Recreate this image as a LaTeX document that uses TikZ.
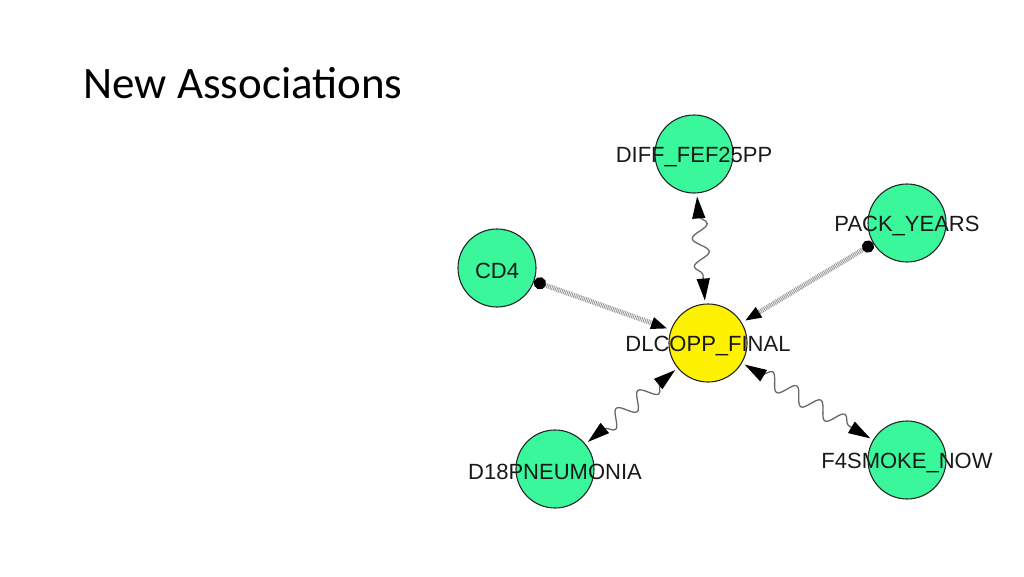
\documentclass[tikz,border=0pt]{standalone}
\usepackage{fontspec}
\setmainfont{Carlito}
\newfontfamily\labelfont{Liberation Sans}
\usetikzlibrary{arrows.meta,decorations.pathmorphing}
\definecolor{nodegreen}{RGB}{58,247,156}
\definecolor{wavegray}{RGB}{105,105,105}
\begin{document}
\begin{tikzpicture}[x=1pt, y=-1pt,
	var/.style={circle, draw=black!85, line width=1.1pt, fill=nodegreen, minimum size=78pt, inner sep=0pt},
	target/.style={var, fill=yellow},
	lbl/.style={font=\labelfont\fontsize{22}{22}\selectfont, text=black!90, yshift=-3pt},
	hatched/.style={draw=black!40, line width=5pt, dash pattern=on 0.9pt off 0.9pt, shorten >=3pt,
		{Circle[length=12pt,color=black]}-{Triangle[length=17pt,width=11pt,color=black]}},
	wavy/.style={draw=wavegray, line width=1.3pt, shorten >=3pt, shorten <=3pt, decorate,
		decoration={snake, segment length=28pt, amplitude=8pt, pre length=22pt, post length=22pt},
		{Triangle[length=22pt,width=13pt,color=black]}-{Triangle[length=22pt,width=13pt,color=black]}}]
	\useasboundingbox (0,0) rectangle (1024,576);
	\node[anchor=base west, font=\fontsize{45}{45}\selectfont] (title) at (80,98) {New Associations};
	% variables
	\node[target, label={[lbl]center:DLCOPP\_FINAL}] (dlcopp) at (708,343) {};
	\node[var, label={[lbl]center:DIFF\_FEF25PP}]    (diff)   at (694,154) {};
	\node[var, label={[lbl]center:PACK\_YEARS}]      (pack)   at (907,223) {};
	\node[var, label={[lbl]center:CD4}]              (cd4)    at (497,268) {};
	\node[var, label={[lbl]center:D18PNEUMONIA}]     (pneu)   at (555,469) {};
	\node[var, label={[lbl]center:F4SMOKE\_NOW}]     (smoke)  at (907,460) {};
	% associations
	\draw[hatched] (cd4)  -- (dlcopp);
	\draw[hatched] (pack) -- (dlcopp);
	\draw[wavy] (diff)   -- (dlcopp);
	\draw[wavy] (dlcopp) -- (pneu);
	\draw[wavy] (dlcopp) -- (smoke);
\end{tikzpicture}
\end{document}
